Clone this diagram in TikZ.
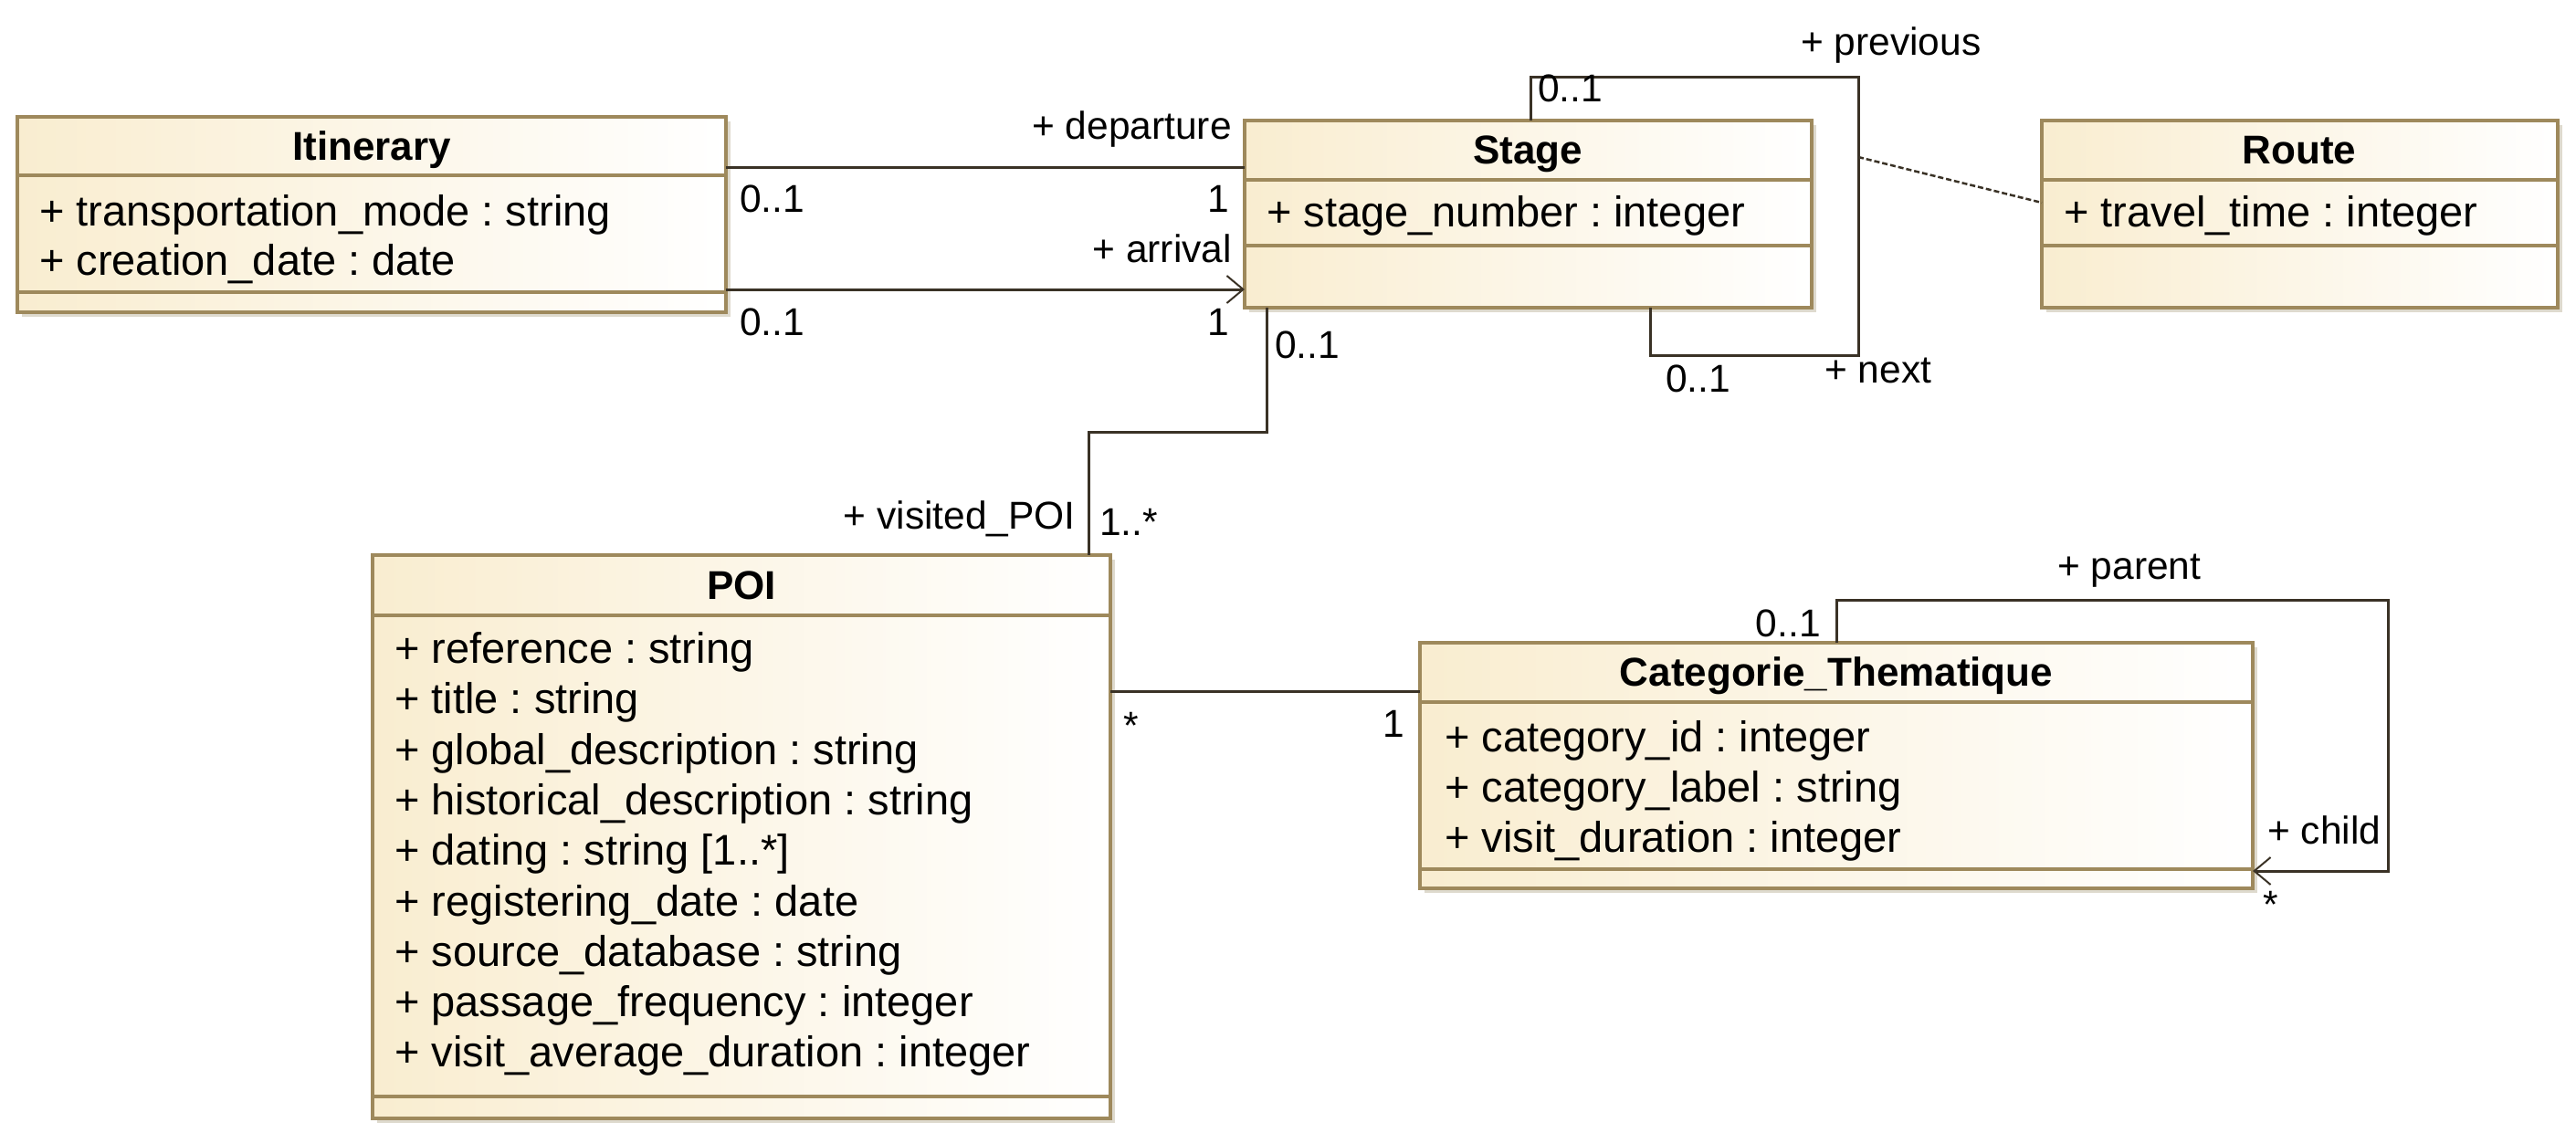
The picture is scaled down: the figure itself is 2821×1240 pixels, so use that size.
\documentclass[tikz,border=0pt]{standalone}
\usepackage{fontspec}
\setmainfont{Liberation Sans}
\usetikzlibrary{arrows.meta,backgrounds}

\definecolor{boxleft}{RGB}{249,237,208}
\definecolor{boxborder}{RGB}{158,137,92}
\definecolor{linecol}{RGB}{58,50,38}
\definecolor{shadowcol}{RGB}{222,218,206}

\tikzset{
  classbox/.style={draw=boxborder, line width=3.2pt, left color=boxleft, right color=white,
    anchor=north west, inner sep=0pt, outer sep=0pt},
  sepline/.style={draw=boxborder, line width=3.2pt},
  shadowbox/.style={fill=shadowcol},
  titletext/.style={font=\fontsize{44}{52}\selectfont\bfseries, inner sep=0pt, anchor=mid, yshift=-12.5pt},
  attr/.style={font=\fontsize{47}{55}\selectfont\frenchspacing, inner sep=0pt, anchor=mid west, yshift=-12.5pt},
  lbl/.style={font=\fontsize{42.5}{50}\selectfont\frenchspacing, inner sep=0pt, yshift=-12pt},
  assoc/.style={draw=linecol, line width=3pt},
  navarrow/.style={-{Straight Barb[length=18pt,width=30pt,line width=2pt]}},
  assocclass/.style={draw=linecol, line width=2.5pt, dash pattern=on 6pt off 3pt}
}

\begin{document}
\begin{tikzpicture}[x=1pt,y=-1pt]
\useasboundingbox (0,0) rectangle (2821,1240);

% ---------- classes ----------
\node[classbox, minimum width=776pt, minimum height=214pt] (itin) at (19,128) {};
\node[classbox, minimum width=621pt, minimum height=205pt] (stage) at (1363,132) {};
\node[classbox, minimum width=565pt, minimum height=205pt] (route) at (2236,132) {};
\node[classbox, minimum width=808pt, minimum height=617pt] (poi) at (408,608) {};
\node[classbox, minimum width=912pt, minimum height=269pt] (cat) at (1555,704) {};

\begin{scope}[on background layer]
  \foreach \n in {itin,stage,route,poi,cat}
    \fill[shadowbox] ([shift={(5,5)}]\n.north west) rectangle ([shift={(5,5)}]\n.south east);
\end{scope}

% compartments
\draw[sepline] (itin.west |- 0,192) -- (itin.east |- 0,192);
\draw[sepline] (itin.west |- 0,320) -- (itin.east |- 0,320);
\draw[sepline] (stage.west |- 0,197) -- (stage.east |- 0,197);
\draw[sepline] (stage.west |- 0,269) -- (stage.east |- 0,269);
\draw[sepline] (route.west |- 0,197) -- (route.east |- 0,197);
\draw[sepline] (route.west |- 0,269) -- (route.east |- 0,269);
\draw[sepline] (poi.west |- 0,674) -- (poi.east |- 0,674);
\draw[sepline] (poi.west |- 0,1201) -- (poi.east |- 0,1201);
\draw[sepline] (cat.west |- 0,769) -- (cat.east |- 0,769);
\draw[sepline] (cat.west |- 0,952) -- (cat.east |- 0,952);

% titles
\node[titletext] (itin-t) at (407,160) {Itinerary};
\node[titletext] (stage-t) at (1673,164) {Stage};
\node[titletext] (route-t) at (2518,164) {Route};
\node[titletext] (poi-t) at (812,641) {POI};
\node[titletext] (cat-t) at (2011,736) {Categorie\_Thematique};

% attributes
\node[attr] (itin-a1) at (43,232) {+ transportation\_mode : string};
\node[attr] (itin-a2) at (43,286) {+ creation\_date : date};
\node[attr] (stage-a1) at (1387,233) {+ stage\_number : integer};
\node[attr] (route-a1) at (2260,233) {+ travel\_time : integer};
\node[attr] (poi-a1) at (432,711) {+ reference : string};
\node[attr] (poi-a2) at (432,766) {+ title : string};
\node[attr] (poi-a3) at (432,822) {+ global\_description : string};
\node[attr] (poi-a4) at (432,877) {+ historical\_description : string};
\node[attr] (poi-a5) at (432,932) {+ dating : string [1..*]};
\node[attr] (poi-a6) at (432,988) {+ registering\_date : date};
\node[attr] (poi-a7) at (432,1043) {+ source\_database : string};
\node[attr] (poi-a8) at (432,1098) {+ passage\_frequency : integer};
\node[attr] (poi-a9) at (432,1153) {+ visit\_average\_duration : integer};
\node[attr] (cat-a1) at (1582,808) {+ category\_id : integer};
\node[attr] (cat-a2) at (1582,863) {+ category\_label : string};
\node[attr] (cat-a3) at (1582,918) {+ visit\_duration : integer};

% ---------- connectors ----------
% Itinerary -- Stage
\draw[assoc] (itin.east |- 0,183) -- (stage.west |- 0,183);
\draw[assoc, navarrow] (itin.east |- 0,317) -- (stage.west |- 0,317);

% Stage self association (previous / next)
\coordinate (sl1) at (2035,84);
\coordinate (sl2) at (2035,389);
\coordinate (slmid) at (2035,172);
\draw[assoc] (stage.north -| 1676,0) |- (sl1) -- (sl2) -| (stage.south -| 1807,0);

% association class Route
\draw[assocclass] (slmid) -- (route.west |- 0,222);

% Stage -- POI
\coordinate (sp1) at (1192,473);
\draw[assoc] (stage.south -| 1387,0) |- (sp1) -- (poi.north -| sp1);

% POI -- Categorie
\draw[assoc] (poi.east |- 0,757) -- (cat.west |- 0,757);

% Categorie self association
\coordinate (cl1) at (2615,657);
\draw[assoc, navarrow] (cat.north -| 2011,0) |- (cl1) |- (cat.east |- 0,954);

% ---------- labels ----------
\node[lbl, anchor=mid east] (l-dep) at (1349,138) {+ departure};
\node[lbl, anchor=mid west] (l-d01) at (810,218) {0..1};
\node[lbl, anchor=mid east] (l-d1) at (1346,218) {1};
\node[lbl, anchor=mid east] (l-arr) at (1349,273) {+ arrival};
\node[lbl, anchor=mid west] (l-a01) at (810,353) {0..1};
\node[lbl, anchor=mid east] (l-a1) at (1346,353) {1};

\node[lbl, anchor=mid west] (l-prev) at (1972,46) {+ previous};
\node[lbl, anchor=mid west] (l-p01) at (1684,97) {0..1};
\node[lbl, anchor=mid west] (l-next) at (1998,405) {+ next};
\node[lbl, anchor=mid west] (l-n01) at (1824,415) {0..1};

\node[lbl, anchor=mid west] (l-s01) at (1396,378) {0..1};
\node[lbl, anchor=mid east] (l-vis) at (1178,565) {+ visited\_POI};
\node[lbl, anchor=mid west] (l-vis1) at (1204,572) {1..*};

\node[lbl, anchor=mid west] (l-pstar) at (1230,795) {*};
\node[lbl, anchor=mid east] (l-c1) at (1538,793) {1};

\node[lbl, anchor=mid west] (l-parent) at (2253,620) {+ parent};
\node[lbl, anchor=mid east] (l-c01) at (1994,683) {0..1};
\node[lbl, anchor=mid west] (l-child) at (2483,910) {+ child};
\node[lbl, anchor=mid west] (l-cstar) at (2478,991) {*};
\end{tikzpicture}
\end{document}
